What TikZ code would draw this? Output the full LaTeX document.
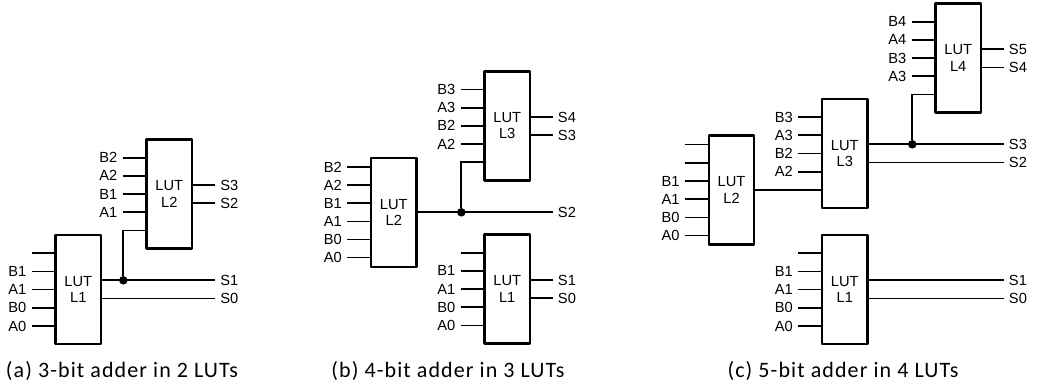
\documentclass[tikz,border=0pt]{standalone}
\usepackage{fontspec}
\setmainfont{Liberation Sans}
\newfontfamily\capfont[LetterSpace=5]{Carlito}
\usetikzlibrary{positioning, calc}
\tikzset{
    lutbox/.style={draw, line width=1.9pt, line join=round, fill=white, minimum width=34pt, minimum height=81.8pt, inner sep=0pt, outer sep=0pt, align=center, font=\fontsize{11}{12.3}\selectfont},
    wire/.style={line width=1.3pt},
    pinlabel/.style={anchor=east, inner xsep=3.75pt, inner ysep=0pt, font=\fontsize{11}{12}\selectfont},
    outlabel/.style={anchor=west, inner xsep=3.75pt, inner ysep=0pt, font=\fontsize{11}{12}\selectfont},
    junction/.style={circle, fill=black, inner sep=0pt, minimum size=6.4pt},
    subcap/.style={font=\capfont\fontsize{16.5}{18}\selectfont, inner sep=0pt}
}

\begin{document}
\begin{tikzpicture}[x=0.75pt, y=-0.75pt]
    \useasboundingbox (0,0) rectangle (1038,386);

    % (a) 3-bit adder
    \node[lutbox] (aL1) at (78.3,289.5) {LUT\\L1};
    \node[lutbox] (aL2) at (169.3,194) {LUT\\L2};
    \coordinate (aL1n) at ($(aL1.north west)+(-24,18.2)$);
    \draw[wire] (aL1n) -- (aL1n -| aL1.west);
    \foreach \i/\pin in {2/B1,3/A1,4/B0,5/A0} {
        \node[pinlabel] (aL1\pin) at ($(aL1.north west)+(-24,{\i*18.2})$) {\pin};
        \draw[wire] (aL1\pin.east) -- (aL1\pin.east -| aL1.west);
    }
    \foreach \i/\pin in {1/B2,2/A2,3/B1,4/A1} {
        \node[pinlabel] (aL2\pin) at ($(aL2.north west)+(-24,{\i*18.2})$) {\pin};
        \draw[wire] (aL2\pin.east) -- (aL2\pin.east -| aL2.west);
    }
    \foreach \y/\pin in {185/S3,203.2/S2} {
        \node[outlabel] (a\pin) at (215,\y) {\pin};
        \draw[wire] (aL2.east |- a\pin.west) -- (a\pin.west);
    }
    \foreach \y/\pin in {280.3/S1,298.6/S0} {
        \node[outlabel] (a\pin) at (215,\y) {\pin};
        \draw[wire] (aL1.east |- a\pin.west) -- (a\pin.west);
    }
    \node[junction] (aJ) at (123.3,280.3) {};
    \coordinate (aL2c) at ($(aL2.north west)+(0,91)$);
    \draw[wire] (aL2c) -| (aJ);
    \node[subcap] (aCap) at (122,370.5) {(a) 3-bit adder in 2 LUTs};

    % (b) 4-bit adder
    \node[lutbox] (bL1) at (507.2,289) {LUT\\L1};
    \node[lutbox] (bL2) at (393.8,212.3) {LUT\\L2};
    \node[lutbox] (bL3) at (507.2,125.8) {LUT\\L3};
    \coordinate (bL1n) at ($(bL1.north west)+(-24,18.2)$);
    \draw[wire] (bL1n) -- (bL1n -| bL1.west);
    \foreach \i/\pin in {2/B1,3/A1,4/B0,5/A0} {
        \node[pinlabel] (bL1\pin) at ($(bL1.north west)+(-24,{\i*18.2})$) {\pin};
        \draw[wire] (bL1\pin.east) -- (bL1\pin.east -| bL1.west);
    }
    \foreach \i/\pin in {0/B2,1/A2,2/B1,3/A1,4/B0,5/A0} {
        \node[pinlabel] (bL2\pin) at ($(bL2.north west)+(-24,{9.3+\i*18.1})$) {\pin};
        \draw[wire] (bL2\pin.east) -- (bL2\pin.east -| bL2.west);
    }
    \foreach \i/\pin in {1/B3,2/A3,3/B2,4/A2} {
        \node[pinlabel] (bL3\pin) at ($(bL3.north west)+(-24,{\i*18.2})$) {\pin};
        \draw[wire] (bL3\pin.east) -- (bL3\pin.east -| bL3.west);
    }
    \foreach \y/\pin in {117/S4,135.3/S3} {
        \node[outlabel] (b\pin) at (552.7,\y) {\pin};
        \draw[wire] (bL3.east |- b\pin.west) -- (b\pin.west);
    }
    \foreach \y/\pin in {280/S1,298.3/S0} {
        \node[outlabel] (b\pin) at (552.7,\y) {\pin};
        \draw[wire] (bL1.east |- b\pin.west) -- (b\pin.west);
    }
    \node[outlabel] (bS2) at (552.7,212.3) {S2};
    \draw[wire] (bL2.east) -- (bS2.west);
    \node[junction] (bJ) at (461.3,212.3) {};
    \coordinate (bL3c) at ($(bL3.north west)+(0,91)$);
    \draw[wire] (bL3c) -| (bJ);
    \node[subcap] (bCap) at (448,370.5) {(b) 4-bit adder in 3 LUTs};

    % (c) 5-bit adder
    \node[lutbox] (cL1) at (844.8,289.5) {LUT\\L1};
    \node[lutbox] (cL2) at (731.5,189.8) {LUT\\L2};
    \node[lutbox] (cL3) at (844.8,153.4) {LUT\\L3};
    \node[lutbox] (cL4) at (958.2,58) {LUT\\L4};
    \coordinate (cL1n) at ($(cL1.north west)+(-24,18.2)$);
    \draw[wire] (cL1n) -- (cL1n -| cL1.west);
    \foreach \i/\pin in {2/B1,3/A1,4/B0,5/A0} {
        \node[pinlabel] (cL1\pin) at ($(cL1.north west)+(-24,{\i*18.2})$) {\pin};
        \draw[wire] (cL1\pin.east) -- (cL1\pin.east -| cL1.west);
    }
    \foreach \i in {0,1} {
        \coordinate (cL2n\i) at ($(cL2.north west)+(-24,{9.3+\i*18.2})$);
        \draw[wire] (cL2n\i) -- (cL2n\i -| cL2.west);
    }
    \foreach \i/\pin in {2/B1,3/A1,4/B0,5/A0} {
        \node[pinlabel] (cL2\pin) at ($(cL2.north west)+(-24,{9.3+\i*18.2})$) {\pin};
        \draw[wire] (cL2\pin.east) -- (cL2\pin.east -| cL2.west);
    }
    \foreach \i/\pin in {1/B3,2/A3,3/B2,4/A2} {
        \node[pinlabel] (cL3\pin) at ($(cL3.north west)+(-24,{\i*18.2})$) {\pin};
        \draw[wire] (cL3\pin.east) -- (cL3\pin.east -| cL3.west);
    }
    \foreach \i/\pin in {1/B4,2/A4,3/B3,4/A3} {
        \node[pinlabel] (cL4\pin) at ($(cL4.north west)+(-24,{\i*18.2})$) {\pin};
        \draw[wire] (cL4\pin.east) -- (cL4\pin.east -| cL4.west);
    }
    \foreach \y/\pin in {49.3/S5,67.4/S4} {
        \node[outlabel] (c\pin) at (1003.7,\y) {\pin};
        \draw[wire] (cL4.east |- c\pin.west) -- (c\pin.west);
    }
    \foreach \y/\pin in {144.3/S3,162.6/S2} {
        \node[outlabel] (c\pin) at (1003.7,\y) {\pin};
        \draw[wire] (cL3.east |- c\pin.west) -- (c\pin.west);
    }
    \foreach \y/\pin in {280.3/S1,298.6/S0} {
        \node[outlabel] (c\pin) at (1003.7,\y) {\pin};
        \draw[wire] (cL1.east |- c\pin.west) -- (c\pin.west);
    }
    \draw[wire] (cL2.east) -- (cL2.east -| cL3.west);
    \node[junction] (cJ) at (912.3,144.3) {};
    \coordinate (cL4c) at ($(cL4.north west)+(0,91)$);
    \draw[wire] (cL4c) -| (cJ);
    \node[subcap] (cCap) at (843,370.5) {(c) 5-bit adder in 4 LUTs};
\end{tikzpicture}
\end{document}
